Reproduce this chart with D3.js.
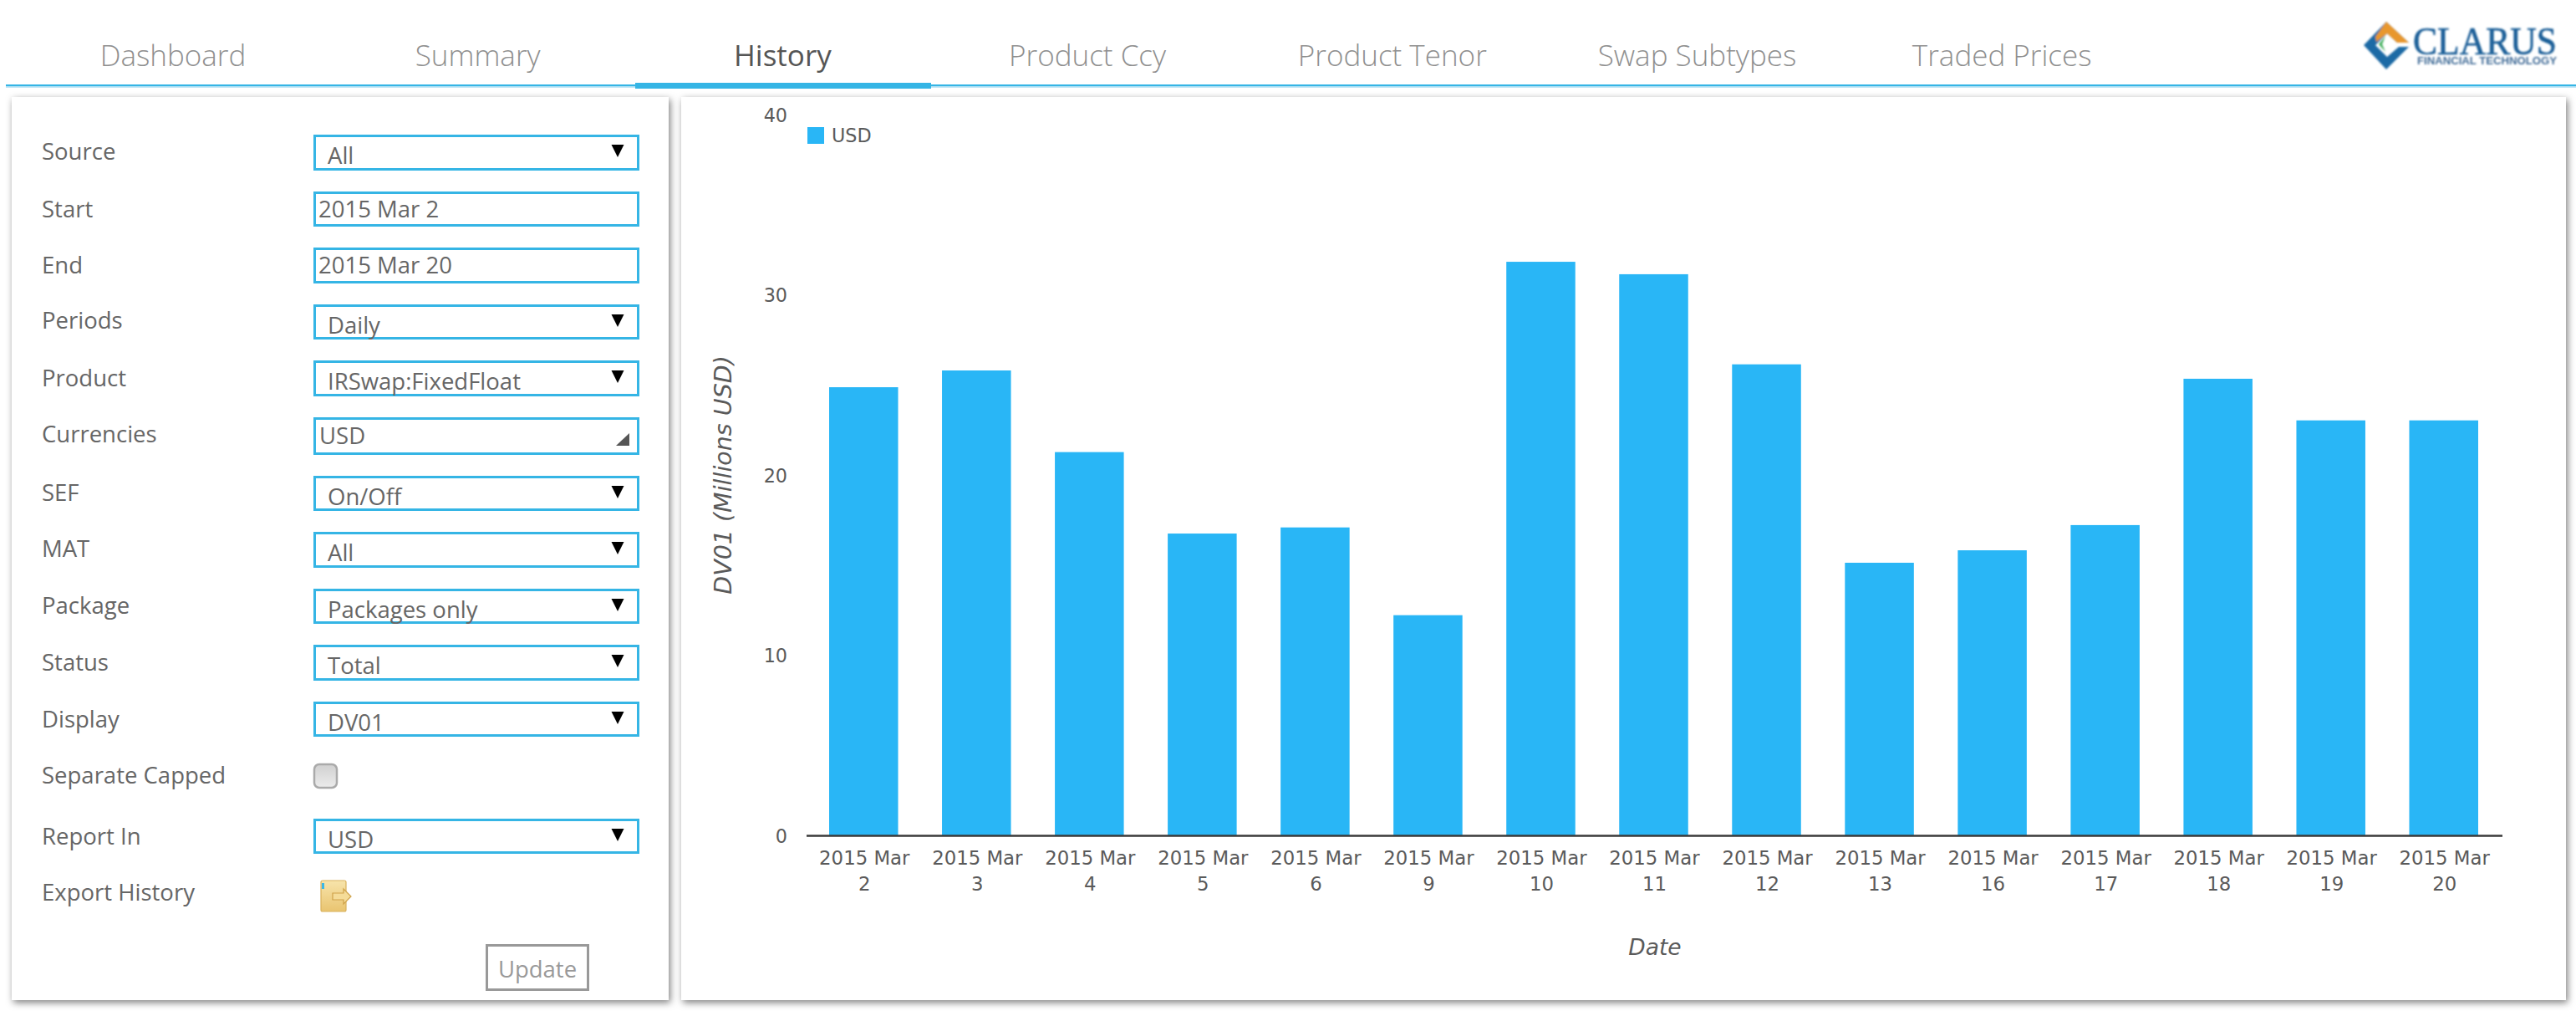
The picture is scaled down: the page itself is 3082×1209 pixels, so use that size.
<!DOCTYPE html>
<html><head><meta charset="utf-8">
<script src="https://cdn.jsdelivr.net/npm/d3@7"></script>
<style>
html,body{margin:0;padding:0;background:#fff;overflow:hidden}
svg{display:block}
text{font-family:"Open Sans",sans-serif}
.chart text{font-family:"DejaVu Sans",Verdana,sans-serif;fill:#5a5a5a}
.panel{fill:#fff;filter:drop-shadow(2px 3px 4px rgba(0,0,0,.5))}
</style></head><body>
<svg id="c" width="3082" height="1209"></svg>
<script>
// ---- data ----
const categories = ["2015 Mar 2","2015 Mar 3","2015 Mar 4","2015 Mar 5","2015 Mar 6","2015 Mar 9","2015 Mar 10","2015 Mar 11","2015 Mar 12","2015 Mar 13","2015 Mar 16","2015 Mar 17","2015 Mar 18","2015 Mar 19","2015 Mar 20"];
const usdValues = [24.87,25.80,21.27,16.75,17.09,12.22,31.83,31.14,26.14,15.13,15.82,17.22,25.34,23.03,23.03];
const yTicks = [0,10,20,30,40];
const tabs = ["Dashboard","Summary","History","Product Ccy","Product Tenor","Swap Subtypes","Traded Prices"];
const activeTab = "History";
const formLabels = ["Source","Start","End","Periods","Product","Currencies","SEF","MAT","Package","Status","Display","Separate Capped","Report In","Export History"];
const labelCentres = [181,250,317,383,452,519,589,656,724,792,860,927,1000,1067];
const selectRows = [["All",161,204],["Daily",364,406],["IRSwap:FixedFloat",431,474],["On/Off",569,611],["All",636,679],["Packages only",704,746],["Total",771,814],["DV01",839,881],["USD",979,1021]];
const inputRows = [["2015 Mar 2",229,271],["2015 Mar 20",296,339],["USD",499,544]];

const svg = d3.select("#c");
const BLUE = "#35b5e5", BAR = "#29b6f6";
const defs = svg.append("defs");
const cb = defs.append("linearGradient").attr("id","cb").attr("x1",0).attr("x2",0).attr("y1",0).attr("y2",1);
cb.append("stop").attr("offset",0).attr("stop-color","#d0d0d0");
cb.append("stop").attr("offset",1).attr("stop-color","#ececec");
const ic = defs.append("linearGradient").attr("id","ic").attr("x1",0).attr("x2",0).attr("y1",0).attr("y2",1);
ic.append("stop").attr("offset",0).attr("stop-color","#f7e4ab");
ic.append("stop").attr("offset",1).attr("stop-color","#e9c470");
defs.append("filter").attr("id","soft").append("feGaussianBlur").attr("stdDeviation",0.8);

// ---- header ----
const hdr = svg.append("g");
hdr.append("rect").attr("x",7).attr("y",101).attr("width",3075).attr("height",2.5).attr("fill",BLUE);
hdr.append("rect").attr("x",7).attr("y",103.5).attr("width",3075).attr("height",1.5).attr("fill","#bfe6f6");
hdr.append("rect").attr("x",760).attr("y",99).attr("width",354).attr("height",7).attr("fill",BLUE);
hdr.selectAll("text.tab").data(tabs).join("text").attr("class","tab")
  .attr("x",(d,i)=>207+364.7*i).attr("y",79).attr("text-anchor","middle")
  .attr("font-size",35).attr("font-weight",d=>d===activeTab?400:300)
  .attr("fill",d=>d===activeTab?"#555":"#8f8f8f").text(d=>d);

// ---- logo ----
const logo = hdr.append("g").attr("filter","url(#soft)");
logo.append("path").attr("d","M2855 26L2882 51L2868 51L2856 40L2842 54L2856 68L2870 56L2882 56L2855 83L2828 54Z").attr("fill","#1f6aa5");
logo.append("path").attr("d","M2855 26L2882 51L2868 51L2856 40L2843 50L2842 44Z").attr("fill","#e8972e");
logo.append("path").attr("d","M2854 43L2846 53L2854 62L2850 53Z").attr("fill","#3fae5a");
logo.append("text").attr("x",2887).attr("y",65).attr("font-size",46).attr("textLength",172).attr("lengthAdjust","spacingAndGlyphs")
  .style("font-family","'Liberation Serif',serif").attr("fill","#1f6099").attr("stroke","#1f6099").attr("stroke-width",0.7).text("CLARUS");
logo.append("text").attr("x",2892).attr("y",77).attr("font-size",12).attr("font-weight",700).attr("textLength",167).attr("lengthAdjust","spacingAndGlyphs")
  .style("font-family","'Liberation Sans',sans-serif").attr("fill","#3f6a96").text("FINANCIAL TECHNOLOGY");

// ---- panels ----
svg.append("rect").attr("class","panel").attr("x",14).attr("y",116).attr("width",786).attr("height",1080);
svg.append("rect").attr("class","panel").attr("x",815).attr("y",116).attr("width",2255).attr("height",1080);

// ---- form ----
const form = svg.append("g");
form.selectAll("text.lab").data(formLabels).join("text").attr("class","lab")
  .attr("x",50).attr("y",(d,i)=>labelCentres[i]+9.5).attr("font-size",27.5).attr("fill","#666").text(d=>d);
const box = (sel,rows)=>sel.selectAll("rect.b").data(rows).join("rect").attr("class","b")
  .attr("x",376.5).attr("y",d=>d[1]+1.5).attr("width",387).attr("height",d=>d[2]-d[1]-3)
  .attr("fill","#fff").attr("stroke",BLUE).attr("stroke-width",3);
const gs = form.append("g"), gi = form.append("g");
box(gs,selectRows); box(gi,inputRows);
gs.selectAll("text.v").data(selectRows).join("text").attr("class","v").attr("x",392).attr("y",d=>d[1]+35)
  .attr("font-size",27.5).attr("fill","#666").text(d=>d[0]);
gs.selectAll("path.t").data(selectRows).join("path").attr("class","t")
  .attr("d",d=>`M731.5 ${d[1]+12}h15l-7.5 15z`).attr("fill","#000");
gi.selectAll("text.v").data(inputRows).join("text").attr("class","v").attr("x",(d,i)=>i===2?382:381).attr("y",d=>d[1]+(d[0]==="USD"?32:31))
  .attr("font-size",27.5).attr("fill","#666").text(d=>d[0]);
form.append("path").attr("d","M753 518V533H737Z").attr("fill","#555");
form.append("rect").attr("x",376).attr("y",914).attr("width",27).attr("height",28).attr("rx",6)
  .attr("fill","url(#cb)").attr("stroke","#aaa").attr("stroke-width",2.5);
// export icon
form.append("rect").attr("x",384).attr("y",1053).attr("width",30).attr("height",37).attr("rx",2).attr("fill","url(#ic)").attr("stroke","#d9b15c").attr("stroke-width",1.2);
form.append("path").attr("d","M398 1068H411V1063L420 1072L411 1081V1076H398Z").attr("fill","#f5dc98").attr("stroke","#cfa24a").attr("stroke-width",1.2);
form.append("rect").attr("x",385).attr("y",1056).attr("width",3).attr("height",7).attr("fill","#3bb8e8");
// update button
form.append("rect").attr("x",582.5).attr("y",1130.5).attr("width",121).attr("height",53).attr("fill","#fff").attr("stroke","#999").attr("stroke-width",3);
form.append("text").attr("x",643).attr("y",1169).attr("text-anchor","middle").attr("font-size",27.5).attr("fill","#999").text("Update");

// ---- chart ----
const chart = svg.append("g").attr("class","chart");
const x = d3.scaleBand().domain(categories).range([965,2992]).paddingInner(0.389).paddingOuter(0.2);
const y = d3.scaleLinear().domain([0,40]).range([999,137]);
chart.selectAll("rect.bar").data(usdValues).join("rect").attr("class","bar")
  .attr("x",(d,i)=>x(categories[i])).attr("width",x.bandwidth())
  .attr("y",d=>y(d)).attr("height",d=>y(0)-y(d)).attr("fill",BAR);

const yAxis = chart.append("g").attr("transform","translate(942,0)")
  .call(d3.axisLeft(y).tickValues(yTicks).tickSize(0).tickPadding(0));
yAxis.select(".domain").remove();
yAxis.selectAll("text").attr("font-size",22.3).attr("dy",null).attr("y",8).attr("x",0);

const xAxis = chart.append("g").attr("transform","translate(1,999.5)")
  .call(d3.axisBottom(x).tickSize(0));
xAxis.select(".domain").remove();
xAxis.selectAll("text").each(function(d){
  const parts = d.split(" "), t = d3.select(this).text(null).attr("font-size",22.8).attr("y",null).attr("dy",null);
  t.append("tspan").attr("x",0).attr("y",34.5).text(parts[0]+" "+parts[1]);
  t.append("tspan").attr("x",0).attr("y",65.5).text(parts[2]);
});
chart.append("line").attr("x1",965).attr("x2",2994).attr("y1",999.5).attr("y2",999.5).attr("stroke","#3a3a3a").attr("stroke-width",2.5);

chart.append("text").attr("transform","translate(875,568) rotate(-90)").attr("text-anchor","middle")
  .attr("font-size",28.5).attr("font-style","italic").text("DV01 (Millions USD)");
chart.append("text").attr("x",1980).attr("y",1142).attr("text-anchor","middle")
  .attr("font-size",26.5).attr("font-style","italic").text("Date");

// legend
chart.append("rect").attr("x",966).attr("y",152).attr("width",20).attr("height",20).attr("fill",BAR);
chart.append("text").attr("x",995).attr("y",170).attr("font-size",22.3).text("USD");
</script>
</body></html>
